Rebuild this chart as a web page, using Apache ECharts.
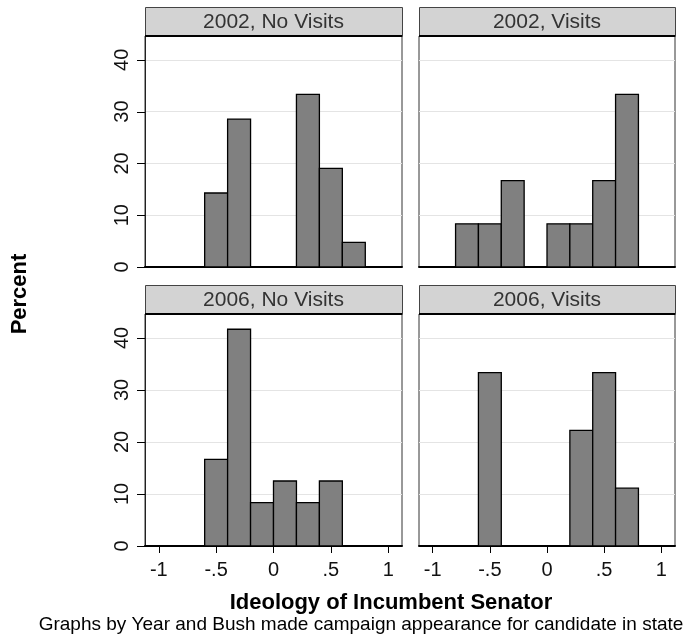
<!DOCTYPE html>
<html>
<head>
<meta charset="utf-8">
<script src="https://cdn.jsdelivr.net/npm/echarts@6/dist/echarts.min.js"></script>
<style>html,body{margin:0;padding:0;background:#fff}#c{width:686px;height:640px}</style>
</head>
<body>
<div id="c"></div>
<script>
// ---- data ----
const binStarts = [-0.8, -0.6, -0.4, -0.2, 0, 0.2, 0.4, 0.6];
const binWidth = 0.2;
const pct2002NoVisits = [0, 14.29, 28.57, 0, 0, 33.33, 19.05, 4.76];
const pct2002Visits   = [8.33, 8.33, 16.67, 0, 8.33, 8.33, 16.67, 33.33];
const pct2006NoVisits = [0, 16.67, 41.67, 8.33, 12.5, 8.33, 12.5, 0];
const pct2006Visits   = [0, 33.33, 0, 0, 0, 22.22, 33.33, 11.11];
const panelTitles = ['2002, No Visits', '2002, Visits', '2006, No Visits', '2006, Visits'];
const xTickValues = [-1, -0.5, 0, 0.5, 1];
const xTickLabels = ['-1', '-.5', '0', '.5', '1'];
const yTickValues = [0, 10, 20, 30, 40];
const yTickLabels = ['0', '10', '20', '30', '40'];
const xTitle = 'Ideology of Incumbent Senator';
const yTitle = 'Percent';
const note = 'Graphs by Year and Bush made campaign appearance for candidate in state';

// ---- layout ----
const FONT = "'Liberation Sans', Arial, sans-serif";
const X_MIN = -1.12, X_MAX = 1.12, Y_MAX = 44.6;
const panels = [
  {left: 145, top: 36, width: 257, height: 231, showX: false, showY: true},
  {left: 419, top: 36, width: 256, height: 231, showX: false, showY: false},
  {left: 145, top: 314, width: 257, height: 232, showX: true, showY: true},
  {left: 419, top: 314, width: 256, height: 232, showX: true, showY: false}
];
const seriesData = [pct2002NoVisits, pct2002Visits, pct2006NoVisits, pct2006Visits];
const headerH = 29;

const grids = [], xAxes = [], yAxes = [], series = [], graphics = [];
panels.forEach((p, i) => {
  grids.push({left: p.left, top: p.top, width: p.width, height: p.height,
    show: true, borderColor: '#333', borderWidth: 1, backgroundColor: 'transparent'});
  xAxes.push({
    type: 'value', gridIndex: i, min: X_MIN, max: X_MAX, position: 'bottom',
    axisLine: {show: true, onZero: false, lineStyle: {color: '#000', width: 2}},
    axisTick: {show: p.showX, customValues: xTickValues, length: 7, lineStyle: {color: '#000', width: 1}},
    axisLabel: {show: p.showX, customValues: xTickValues, margin: 14,
      formatter: v => { const k = xTickValues.findIndex(t => Math.abs(t - v) < 1e-9); return k >= 0 ? xTickLabels[k] : ''; },
      fontFamily: FONT, fontSize: 20, color: '#111'},
    splitLine: {show: false}
  });
  yAxes.push({
    type: 'value', gridIndex: i, min: 0, max: Y_MAX, interval: 10, position: 'left',
    axisLine: {show: p.showY, onZero: false, lineStyle: {color: '#222', width: 1}},
    axisTick: {show: false},
    axisLabel: {show: p.showY, rotate: 90, margin: 13,
      formatter: v => { const k = yTickValues.indexOf(v); return k >= 0 ? yTickLabels[k] : ''; },
      fontFamily: FONT, fontSize: 20, color: '#111'},
    splitLine: {show: true, lineStyle: {color: '#e4e4e4', width: 1}}
  });
  const vals = seriesData[i];
  series.push({
    type: 'custom', xAxisIndex: i, yAxisIndex: i,
    data: binStarts.map((s, k) => [s, vals[k]]),
    renderItem: (params, api) => {
      const x0 = api.value(0), v = api.value(1);
      if (!v) return null;
      const a = api.coord([x0, v]);
      const b = api.coord([x0 + binWidth, 0]);
      return {type: 'rect', shape: {x: a[0], y: a[1], width: b[0] - a[0], height: b[1] - a[1]},
        style: {fill: '#808080', stroke: '#000', lineWidth: 1.3}};
    },
    z: 3
  });
  // panel header
  graphics.push({type: 'rect', left: p.left, top: p.top - headerH,
    shape: {width: p.width, height: headerH},
    style: {fill: '#d3d3d3', stroke: '#444', lineWidth: 1}, z: 10});
  graphics.push({type: 'line', shape: {x1: p.left, y1: p.top, x2: p.left + p.width, y2: p.top},
    style: {stroke: '#000', lineWidth: 2}, z: 11});
  graphics.push({type: 'text', x: p.left + p.width / 2, y: p.top - headerH / 2 + 1,
    style: {text: panelTitles[i], font: '21px ' + FONT, fill: '#333', align: 'center', verticalAlign: 'middle'}, z: 12});
});

graphics.push({type: 'text', x: 20, y: 294, rotation: Math.PI / 2,
  style: {text: yTitle, font: 'bold 22px ' + FONT, fill: '#000', align: 'center', verticalAlign: 'middle'}});
graphics.push({type: 'text', x: 391, y: 603,
  style: {text: xTitle, font: 'bold 22px ' + FONT, fill: '#000', align: 'center', verticalAlign: 'middle'}});
graphics.push({type: 'text', x: 361, y: 625,
  style: {text: note, font: '19px ' + FONT, fill: '#000', align: 'center', verticalAlign: 'middle'}});

const chart = echarts.init(document.getElementById('c'), null, {renderer: 'canvas'});
chart.setOption({
  animation: false,
  backgroundColor: '#fff',
  grid: grids, xAxis: xAxes, yAxis: yAxes, series: series,
  graphic: {elements: graphics}
});

// y-axis tick marks, placed through the chart's own y scale
const tickMarks = [];
panels.forEach((p, i) => {
  if (!p.showY) return;
  yTickValues.forEach(v => {
    const pt = chart.convertToPixel({xAxisIndex: i, yAxisIndex: i}, [X_MIN, v]);
    const y = Math.round(pt[1]) + 0.5;
    tickMarks.push({type: 'line', shape: {x1: pt[0] - 8, y1: y, x2: pt[0], y2: y},
      style: {stroke: '#000', lineWidth: 1}, z: 8});
  });
});
chart.setOption({graphic: {elements: graphics.concat(tickMarks)}});
</script>
</body>
</html>
